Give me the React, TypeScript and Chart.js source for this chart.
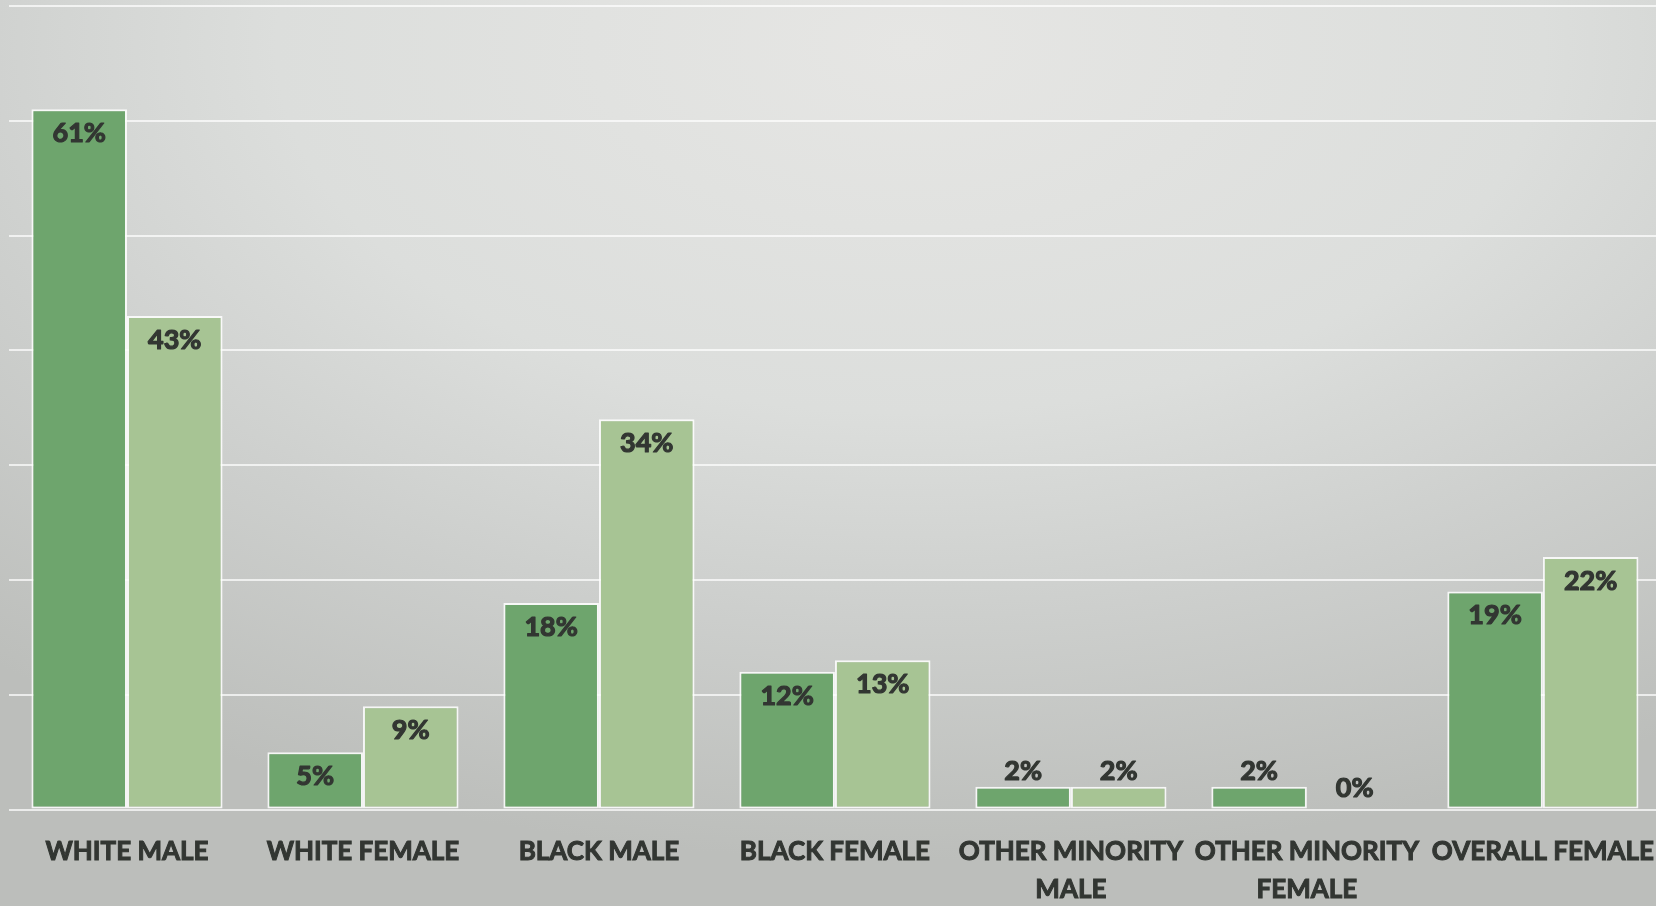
import React, { useEffect, useRef } from "react";
import { Chart, registerables } from "chart.js";

Chart.register(...registerables);

const categories: (string | string[])[] = [
  "WHITE MALE",
  "WHITE FEMALE",
  "BLACK MALE",
  "BLACK FEMALE",
  ["OTHER MINORITY", "MALE"],
  ["OTHER MINORITY", "FEMALE"],
  "OVERALL FEMALE",
];
const seriesA = [61, 5, 18, 12, 2, 2, 19];
const seriesB = [43, 9, 34, 13, 2, 0, 22];
const yTicks = [0, 10, 20, 30, 40, 50, 60, 70];

const darkGreen = "#6ea56d";
const lightGreen = "#a7c494";
const textColor = "#323632";

const labelPlugin = {
  id: "barLabels",
  afterDatasetsDraw(chart: any) {
    const ctx = chart.ctx;
    ctx.save();
    ctx.font = "bold 27px Lato";
    ctx.fillStyle = textColor;
    ctx.strokeStyle = textColor;
    ctx.lineWidth = 1.2;
    ctx.lineJoin = "round";
    ctx.textAlign = "center";
    ctx.textBaseline = "middle";
    chart.data.datasets.forEach((ds: any, di: number) => {
      const meta = chart.getDatasetMeta(di);
      meta.data.forEach((bar: any, i: number) => {
        const v = ds.data[i];
        const h = bar.base - bar.y;
        const y = h > 40 ? bar.y + 24 : bar.y - (v === 0 ? 21 : 15);
        ctx.strokeText(v + "%", bar.x, y);
        ctx.fillText(v + "%", bar.x, y);
      });
    });
    ctx.restore();
  },
};

export default function App() {
  const ref = useRef<HTMLCanvasElement>(null);
  useEffect(() => {
    if (!ref.current) return;
    const chart = new Chart(ref.current, {
      type: "bar",
      data: {
        labels: categories,
        datasets: [
          {
            label: "A",
            data: seriesA,
            backgroundColor: darkGreen,
            borderColor: "rgba(255,255,255,0.85)",
            borderWidth: 2,
            borderSkipped: false,
            categoryPercentage: 0.81,
            barPercentage: 1,
          },
          {
            label: "B",
            data: seriesB,
            backgroundColor: lightGreen,
            borderColor: "rgba(255,255,255,0.85)",
            borderWidth: 2,
            borderSkipped: false,
            categoryPercentage: 0.81,
            barPercentage: 1,
          },
        ],
      },
      options: {
        responsive: false,
        animation: false,
        layout: { padding: { top: 6, left: 9, right: 0, bottom: 4 } },
        plugins: { legend: { display: false }, tooltip: { enabled: false } },
        scales: {
          x: {
            grid: { display: false },
            border: { display: false },
            ticks: {
              color: textColor,
              textStrokeColor: textColor,
              textStrokeWidth: 1,
              font: { family: "Lato", weight: "bold", size: 26, lineHeight: 1.45 },
              padding: 15,
              maxRotation: 0,
              autoSkip: false,
            },
          },
          y: {
            display: true,
            min: 0,
            max: 70,
            afterBuildTicks: (axis: any) => {
              axis.ticks = yTicks.map((v) => ({ value: v }));
            },
            ticks: { display: false },
            border: { display: false },
            grid: {
              color: "rgba(255,255,255,0.7)",
              lineWidth: 2,
              drawTicks: false,
            },
          },
        },
      },
      plugins: [labelPlugin],
    });
    return () => chart.destroy();
  }, []);
  return (
    <div
      style={{
        position: "fixed",
        left: 0,
        top: 0,
        width: 1656,
        height: 906,
        overflow: "hidden",
        background:
          "radial-gradient(ellipse 85% 90% at 55% 5%, #e6e6e4 0%, #dcdedc 45%, #cdcfcd 70%, #bcbebb 100%)",
      }}
    >
      <canvas ref={ref} width={1669} height={927} style={{ display: "block" }} />
    </div>
  );
}
